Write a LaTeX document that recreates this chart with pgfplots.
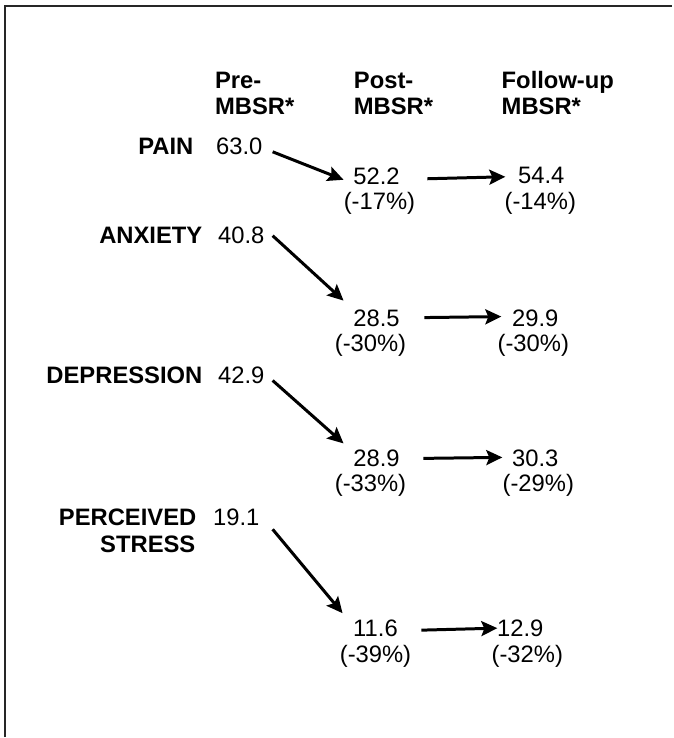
\documentclass[border=0pt]{standalone}
\usepackage{pgfplots}
\pgfplotsset{compat=1.18}
\usepackage{fontspec}
\setmainfont{Liberation Sans}
\usetikzlibrary{arrows.meta}
\begin{document}
\begin{tikzpicture}[
  txt/.style={font=\fontsize{11.9pt}{14pt}\selectfont, inner sep=0pt},
  btxt/.style={font=\fontsize{11.9pt}{14pt}\selectfont\bfseries, inner sep=0pt},
  arr/.style={black, line width=1.5pt, -{Stealth[length=8pt,width=7.5pt,inset=1.5pt]}, no marks}
]
\begin{axis}[
  scale only axis, width=336.5pt, height=369pt,
  xmin=0, xmax=673, ymin=0, ymax=738, y dir=reverse,
  hide axis, clip=false
]
\path (rel axis cs:0,0) rectangle (rel axis cs:1,1);
% frame (left and top edges)
\draw[line width=1pt, black!85] (axis cs:5,738) -- (axis cs:5,6.5) -- (axis cs:673,6.5);

% column headers
\node[btxt, anchor=base west] at (axis cs:215,89) {Pre-};
\node[btxt, anchor=base west] at (axis cs:215,115) {MBSR*};
\node[btxt, anchor=base west] at (axis cs:354,89) {Post-};
\node[btxt, anchor=base west] at (axis cs:354,115) {MBSR*};
\node[btxt, anchor=base west] at (axis cs:502,89) {Follow-up};
\node[btxt, anchor=base west] at (axis cs:502,115) {MBSR*};

% row labels
\node[btxt, anchor=base east] at (axis cs:194,155) {PAIN};
\node[btxt, anchor=base east] at (axis cs:203,244) {ANXIETY};
\node[btxt, anchor=base east] at (axis cs:203,384) {DEPRESSION};
\node[btxt, anchor=base east] at (axis cs:197,526) {PERCEIVED};
\node[btxt, anchor=base east] at (axis cs:196,553) {STRESS};

% pre values
\node[txt, anchor=base west] at (axis cs:216,155) {63.0};
\node[txt, anchor=base west] at (axis cs:218,244) {40.8};
\node[txt, anchor=base west] at (axis cs:218,384) {42.9};
\node[txt, anchor=base west] at (axis cs:213,526) {19.1};

% post values
\node[txt, anchor=base] at (axis cs:377,185) {52.2};
\node[txt, anchor=base] at (axis cs:380,210) {(-17\%)};
\node[txt, anchor=base] at (axis cs:377,327) {28.5};
\node[txt, anchor=base] at (axis cs:371,352) {(-30\%)};
\node[txt, anchor=base] at (axis cs:377,467) {28.9};
\node[txt, anchor=base] at (axis cs:371,492) {(-33\%)};
\node[txt, anchor=base] at (axis cs:376,637) {11.6};
\node[txt, anchor=base] at (axis cs:376,663) {(-39\%)};

% follow-up values
\node[txt, anchor=base] at (axis cs:542,184) {54.4};
\node[txt, anchor=base] at (axis cs:541,210) {(-14\%)};
\node[txt, anchor=base] at (axis cs:536,327) {29.9};
\node[txt, anchor=base] at (axis cs:534,352) {(-30\%)};
\node[txt, anchor=base] at (axis cs:536,467) {30.3};
\node[txt, anchor=base] at (axis cs:539,492) {(-29\%)};
\node[txt, anchor=base] at (axis cs:521,637) {12.9};
\node[txt, anchor=base] at (axis cs:528,663) {(-32\%)};

% arrows
\addplot[arr] coordinates {(273,152) (344,180)};
\addplot[arr] coordinates {(428,179) (506,177)};
\addplot[arr] coordinates {(273,236) (344,301)};
\addplot[arr] coordinates {(425,318) (502,317)};
\addplot[arr] coordinates {(273,381) (344,444)};
\addplot[arr] coordinates {(424,459) (503,458)};
\addplot[arr] coordinates {(273,530) (343,614)};
\addplot[arr] coordinates {(422,631) (498,629)};
\end{axis}
\end{tikzpicture}
\end{document}
